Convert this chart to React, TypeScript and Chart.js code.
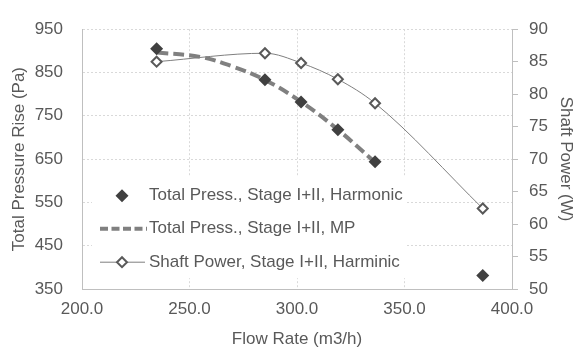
import React, { useEffect, useRef } from "react";
import { Chart, registerables } from "chart.js";

Chart.register(...registerables);

// ---- data ----
const flowHarmonic = [234.7, 285.1, 301.9, 319.0, 336.3, 386.4];
const pressHarmonic = [905, 833, 782, 718, 644, 381];
const shaftPower = [85.0, 86.3, 84.8, 82.3, 78.6, 62.4];
const flowMP = [235, 255, 270, 285, 302, 319, 336];
const pressMP = [896, 886, 864, 833, 782, 718, 644];

const legendLabels = [
  "Total Press., Stage I+II, Harmonic",
  "Total Press., Stage I+II, MP",
  "Shaft Power, Stage I+II, Harminic",
];
const xTitle = "Flow Rate (m3/h)";
const yTitle = "Total Pressure Rise (Pa)";
const y2Title = "Shaft Power (W)";

const FONT = "'Liberation Sans', Arial, sans-serif";
const TEXT = "#595959";
const AXIS = "#bfbfbf";
const GRID = "#d9d9d9";

function diamond(ctx: CanvasRenderingContext2D, x: number, y: number, r: number) {
  ctx.beginPath();
  ctx.moveTo(x - r, y);
  ctx.lineTo(x, y - r);
  ctx.lineTo(x + r, y);
  ctx.lineTo(x, y + r);
  ctx.closePath();
}

const legendPlugin = {
  id: "customLegend",
  beforeDatasetsDraw(chart: any) {
    const ctx: CanvasRenderingContext2D = chart.ctx;
    const a = chart.chartArea;
    const bx = a.left + 10;
    const by = a.top + 147;
    ctx.save();
    ctx.fillStyle = "#ffffff";
    ctx.fillRect(bx, by, 313, 102);
    const rows = [by + 19.5, by + 52.5, by + 86];
    const lx0 = bx + 8;
    const lx1 = bx + 55;
    const mx = bx + 30;
    const tx = bx + 57;
    // row 1: filled diamond
    ctx.fillStyle = "#404040";
    diamond(ctx, mx, rows[0], 6.5);
    ctx.fill();
    // row 2: dashed line
    ctx.strokeStyle = "#808080";
    ctx.lineWidth = 4;
    ctx.setLineDash([8, 3.5]);
    ctx.beginPath();
    ctx.moveTo(lx0, rows[1]);
    ctx.lineTo(lx1, rows[1]);
    ctx.stroke();
    ctx.setLineDash([]);
    // row 3: thin line + hollow diamond
    ctx.strokeStyle = "#7f7f7f";
    ctx.lineWidth = 1;
    ctx.beginPath();
    ctx.moveTo(lx0, rows[2]);
    ctx.lineTo(lx1 - 2, rows[2]);
    ctx.stroke();
    ctx.fillStyle = "#ffffff";
    ctx.strokeStyle = "#595959";
    ctx.lineWidth = 2;
    diamond(ctx, mx, rows[2], 5);
    ctx.fill();
    ctx.stroke();
    // texts
    ctx.fillStyle = TEXT;
    ctx.font = `17px ${FONT}`;
    ctx.textAlign = "left";
    ctx.textBaseline = "middle";
    legendLabels.forEach((t, i) => ctx.fillText(t, tx, rows[i]));
    ctx.restore();
  },
};

export default function App() {
  const ref = useRef<HTMLCanvasElement>(null);
  useEffect(() => {
    if (!ref.current) return;
    const chart = new Chart(ref.current, {
      type: "scatter",
      data: {
        datasets: [
          {
            label: legendLabels[1],
            data: flowMP.map((x, i) => ({ x, y: pressMP[i] })),
            showLine: true,
            borderColor: "#808080",
            borderWidth: 4,
            borderDash: [11, 5],
            pointRadius: 0,
            tension: 0.4,
            yAxisID: "y",
            order: 3,
          },
          {
            label: legendLabels[0],
            data: flowHarmonic.map((x, i) => ({ x, y: pressHarmonic[i] })),
            showLine: false,
            pointStyle: "rectRot",
            pointRadius: 6.5,
            pointBackgroundColor: "#404040",
            pointBorderColor: "#404040",
            pointBorderWidth: 0,
            yAxisID: "y",
            order: 2,
          },
          {
            label: legendLabels[2],
            data: flowHarmonic.map((x, i) => ({ x, y: shaftPower[i] })),
            showLine: true,
            borderColor: "#7f7f7f",
            borderWidth: 1,
            cubicInterpolationMode: "monotone",
            pointStyle: "rectRot",
            pointRadius: 5,
            pointBackgroundColor: "#ffffff",
            pointBorderColor: "#595959",
            pointBorderWidth: 2,
            yAxisID: "y2",
            order: 1,
          },
        ],
      },
      options: {
        responsive: false,
        animation: false,
        layout: { padding: { top: 19, left: 0, right: 0, bottom: 0 } },
        plugins: { legend: { display: false }, tooltip: { enabled: false } },
        scales: {
          x: {
            type: "linear",
            min: 200,
            max: 400,
            ticks: {
              stepSize: 50,
              color: TEXT,
              font: { family: FONT, size: 17 },
              padding: 10,
              callback: (v: any) => Number(v).toFixed(1),
            },
            grid: { color: GRID, drawTicks: false, lineWidth: 1 },
            border: { color: AXIS, width: 1, dash: [2, 2] },
            title: {
              display: true,
              text: xTitle,
              color: TEXT,
              font: { family: FONT, size: 17, lineHeight: 1 },
              padding: { top: 0, bottom: 0 },
            },
            afterFit: (s: any) => {
              s.height = 59;
            },
          },
          y: {
            type: "linear",
            position: "left",
            min: 350,
            max: 950,
            ticks: {
              stepSize: 100,
              color: TEXT,
              font: { family: FONT, size: 17 },
              padding: 19,
            },
            grid: { color: GRID, drawTicks: false, lineWidth: 1 },
            border: { color: AXIS, width: 1, dash: [2, 2] },
            title: {
              display: true,
              text: yTitle,
              color: TEXT,
              font: { family: FONT, size: 17, lineHeight: 1.2 },
              padding: { top: 9, bottom: 0 },
            },
            afterFit: (s: any) => {
              s.width = 82;
            },
          },
          y2: {
            type: "linear",
            position: "right",
            min: 50,
            max: 90,
            ticks: {
              stepSize: 5,
              color: TEXT,
              font: { family: FONT, size: 17 },
              padding: 11,
            },
            grid: {
              drawOnChartArea: false,
              drawTicks: true,
              tickLength: 6,
              tickColor: AXIS,
              color: AXIS,
            },
            border: { color: AXIS, width: 1 },
            title: {
              display: true,
              text: y2Title,
              color: TEXT,
              font: { family: FONT, size: 17, lineHeight: 1.2 },
              padding: { top: 1, bottom: 0 },
            },
            afterFit: (s: any) => {
              s.width = 65;
            },
          },
        },
      },
      plugins: [legendPlugin],
    } as any);
    return () => chart.destroy();
  }, []);
  return (
    <div style={{ position: "absolute", left: 0, top: 0, width: 577, height: 348, background: "#fff" }}>
      <canvas ref={ref} width={577} height={348} />
    </div>
  );
}
